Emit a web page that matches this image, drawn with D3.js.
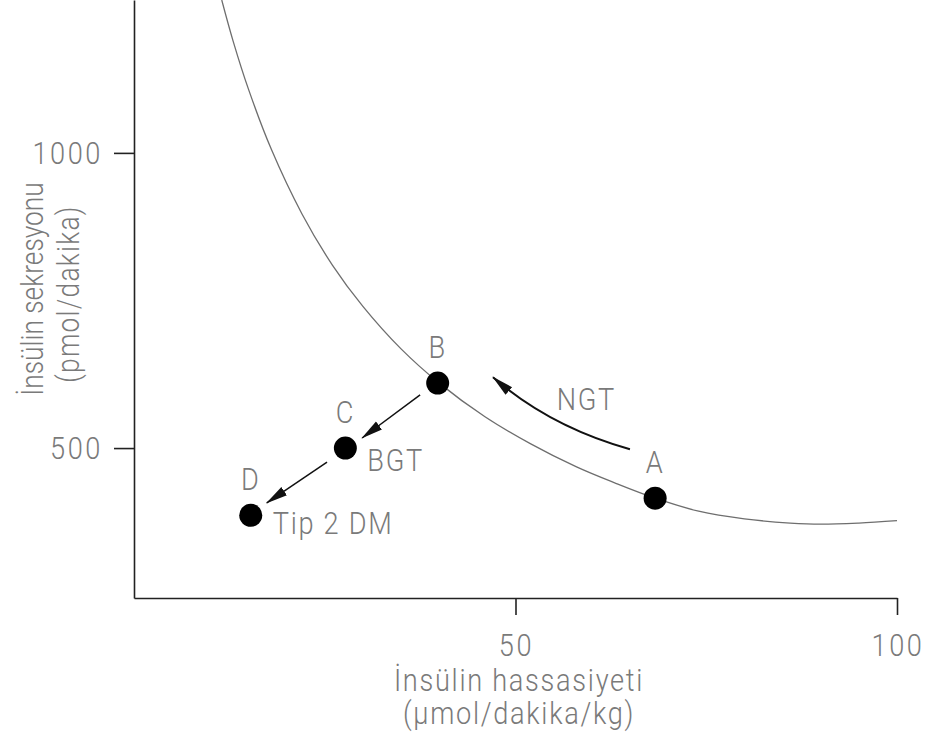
<!DOCTYPE html>
<html>
<head>
<meta charset="utf-8">
<script src="https://cdn.jsdelivr.net/npm/d3@7"></script>
<style>
  html, body { margin: 0; padding: 0; background: #fff; }
  svg { display: block; }
  .lbl { font-family: Roboto, "Liberation Sans", sans-serif; font-weight: 300; fill: #7a7a7a; font-size: 32px; letter-spacing: 2px; }
  .num { letter-spacing: 3px; }
  .ytl1 { letter-spacing: 0; font-size: 31px; }
  .ytl2 { letter-spacing: 1.5px; font-size: 31px; }
</style>
</head>
<body>
<svg id="chart" width="925" height="753"></svg>
<script>
// Axis ticks
const xTicks = [50, 100];
const yTicks = [500, 1000];

// Disposition curve (insulin sensitivity vs insulin secretion)
const curveX = [11.5, 13, 15, 18, 22, 26, 30, 35, 40, 46, 52, 58, 63, 68.3, 74, 80, 86, 90, 95, 100];
const curveY = [1259, 1189, 1108, 1006, 897, 810, 740, 668, 610, 553, 507, 468, 441, 415, 393, 380, 373, 371, 373, 377];

// Patient states
const pointNames = ["A", "B", "C", "D"];
const pointX = [68.3, 39.8, 27.7, 15.3];
const pointY = [415, 610, 500, 386];

// Group labels attached to states
const groupNames = ["NGT", "BGT", "Tip 2 DM"];

const svg = d3.select("#chart");

const x = d3.scaleLinear().domain([0, 100]).range([134, 897]);
const y = d3.scaleLinear().domain([246, 1259]).range([598, 0]);

const SX = 0.85; // condensed lettering

function label(g, px, py, text, anchor, cls) {
  return g.append("g").attr("transform", `translate(${px},${py})`)
    .append("text").attr("class", "lbl" + (cls ? " " + cls : ""))
    .attr("transform", `scale(${SX},1)`)
    .attr("text-anchor", anchor || "start")
    .text(text);
}

// Arrow marker
svg.append("defs").append("marker")
  .attr("id", "head")
  .attr("markerUnits", "userSpaceOnUse")
  .attr("viewBox", "0 -6 22 12")
  .attr("refX", 21).attr("refY", 0)
  .attr("markerWidth", 22).attr("markerHeight", 12)
  .attr("orient", "auto")
  .append("path").attr("d", "M0,-5L22,0L0,5Z").attr("fill", "#111");

// Axes
const yAxis = d3.axisLeft(y).tickValues(yTicks).tickSize(20).tickSizeOuter(0).tickFormat("");
const xAxis = d3.axisBottom(x).tickValues(xTicks).tickSize(17).tickSizeOuter(0).tickFormat("");

const gy = svg.append("g").attr("transform", `translate(${x(0)},0)`).call(yAxis);
const gx = svg.append("g").attr("transform", `translate(0,${y(246)})`).call(xAxis);
[gy, gx].forEach(g => {
  g.select(".domain").attr("stroke", "#222").attr("stroke-width", 1.6);
  g.selectAll(".tick line").attr("stroke", "#222").attr("stroke-width", 1.6);
});

// Tick labels
const tl = svg.append("g");
yTicks.forEach(v => label(tl, 103, y(v) + 11, String(v), "end", "num"));
xTicks.forEach(v => label(tl, x(v) + 1, 656, String(v), "middle", "num"));

// Axis titles
label(tl, 519, 691, "İnsülin hassasiyeti", "middle");
label(tl, 519, 724, "(µmol/dakika/kg)", "middle");

svg.append("g").attr("transform", "translate(43,289) rotate(-90)")
  .append("text").attr("class", "lbl ytl1").attr("transform", `scale(${SX},1)`)
  .attr("text-anchor", "middle").text("İnsülin sekresyonu");
svg.append("g").attr("transform", "translate(79,294) rotate(-90)")
  .append("text").attr("class", "lbl ytl2").attr("transform", `scale(${SX},1)`)
  .attr("text-anchor", "middle").text("(pmol/dakika)");

// Curve
const curveData = curveX.map((d, i) => [d, curveY[i]]);
svg.append("path")
  .datum(curveData)
  .attr("fill", "none")
  .attr("stroke", "#6e6e6e")
  .attr("stroke-width", 1.3)
  .attr("d", d3.line().x(d => x(d[0])).y(d => y(d[1])).curve(d3.curveCatmullRom.alpha(0.5)));

// Transition arrows (data coordinates)
const arrows = [
  { from: [37.5, 590], to: [29.9, 517] },
  { from: [25.3, 476], to: [17.4, 407] }
];
arrows.forEach(a => {
  svg.append("line")
    .attr("x1", x(a.from[0])).attr("y1", y(a.from[1]))
    .attr("x2", x(a.to[0])).attr("y2", y(a.to[1]))
    .attr("stroke", "#111").attr("stroke-width", 1.5)
    .attr("marker-end", "url(#head)");
});
// NGT curved arrow from A toward B
const ngt = { from: [65.0, 498], ctrl: [54.5, 536], to: [47.05, 620] };
const p = d3.path();
p.moveTo(x(ngt.from[0]), y(ngt.from[1]));
p.quadraticCurveTo(x(ngt.ctrl[0]), y(ngt.ctrl[1]), x(ngt.to[0]), y(ngt.to[1]));
svg.append("path").attr("d", p.toString())
  .attr("fill", "none").attr("stroke", "#111").attr("stroke-width", 2)
  .attr("marker-end", "url(#head)");

// Points
svg.selectAll("circle.pt")
  .data(pointNames)
  .enter().append("circle")
  .attr("class", "pt")
  .attr("cx", (d, i) => x(pointX[i]))
  .attr("cy", (d, i) => y(pointY[i]))
  .attr("r", 11.5)
  .attr("fill", "#000");

// Point letters
pointNames.forEach((n, i) => {
  label(svg, x(pointX[i]), y(pointY[i]) - 25, n, "middle");
});

// Group labels
label(svg, x(55.4), y(564), groupNames[0], "start");
label(svg, x(pointX[2]) + 22, y(pointY[2]) + 23, groupNames[1], "start");
label(svg, x(pointX[3]) + 22, y(pointY[3]) + 19, groupNames[2], "start");
</script>
</body>
</html>
